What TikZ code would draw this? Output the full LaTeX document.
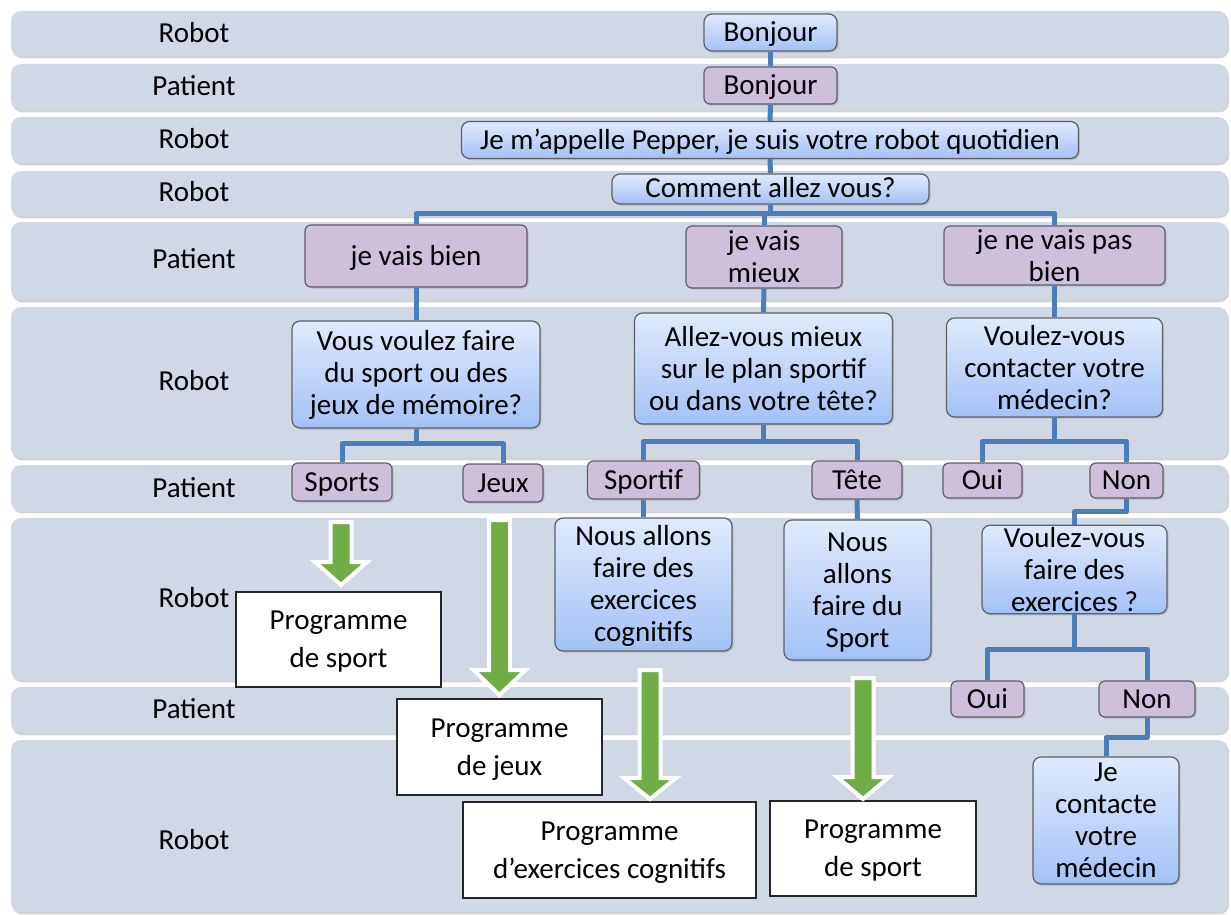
\documentclass[tikz,border=0pt]{standalone}
\usepackage{fontspec}
\setmainfont{Carlito}
\usetikzlibrary{calc,shadows}

\definecolor{bandfill}{RGB}{208,215,229}
\definecolor{linkblue}{RGB}{74,126,187}
\definecolor{robtop}{RGB}{224,234,253}
\definecolor{robbot}{RGB}{162,194,246}
\definecolor{patfill}{RGB}{206,192,218}
\definecolor{arrowgreen}{RGB}{112,173,71}
\definecolor{boxedge}{RGB}{95,95,105}

\def\greenarrow(#1)(#2)(#3){\draw[garrow] ($(#1)+(-10.5,0)$) -- ($(#1)+(10.5,0)$) -- ($(#2)+(10.5,-#3)$) -- ($(#2)+(26,-#3)$) -- (#2) -- ($(#2)+(-26,-#3)$) -- ($(#2)+(-10.5,-#3)$) -- cycle;}

\tikzset{
  lane/.style={fill=bandfill, draw=none, rounded corners=5pt,
    drop shadow={shadow xshift=0.6pt, shadow yshift=-1.2pt, opacity=0.35}},
  lanelabel/.style={font=\fontsize{14.5}{16}\selectfont},
  robot/.style={draw=boxedge, line width=0.6pt, rounded corners=4pt,
    top color=robtop, bottom color=robbot, align=center, inner sep=1pt,
    font=\fontsize{14.5}{16}\selectfont,
    drop shadow={shadow xshift=0.8pt, shadow yshift=-0.8pt, opacity=0.3}},
  patient/.style={draw=boxedge, line width=0.6pt, rounded corners=3pt,
    fill=patfill, align=center, inner sep=1pt,
    font=\fontsize{14.5}{16}\selectfont,
    drop shadow={shadow xshift=0.8pt, shadow yshift=-0.8pt, opacity=0.3}},
  oneline/.style={text height=10.5pt, text depth=1.5pt},
  prog/.style={draw=black!85, line width=0.6pt, fill=white, align=center,
    inner sep=1pt, text depth=-1pt, font=\fontsize{14.5}{19}\selectfont},
  link/.style={draw=linkblue, line width=2.5pt, line join=round},
  garrow/.style={fill=arrowgreen, draw=white, line width=2pt, line join=miter}
}

\begin{document}
\begin{tikzpicture}[x=0.5pt, y=-0.5pt]
		%%%%% LANES %%%%%
		\useasboundingbox (0,0) rectangle (1231,915);
		
		\path[lane] (11, 11) rectangle (1228, 56);
		\path[lane] (11, 64) rectangle (1228, 110);
		\path[lane] (11, 117) rectangle (1228, 163);
		\path[lane] (11, 171) rectangle (1228, 216);
		\path[lane] (11, 222) rectangle (1228, 300);
		\path[lane] (11, 307) rectangle (1228, 458);
		\path[lane] (11, 465) rectangle (1228, 511);
		\path[lane] (11, 518) rectangle (1228, 680);
		\path[lane] (11, 687) rectangle (1228, 733);
		\path[lane] (11, 740) rectangle (1228, 912);
		
		\node[lanelabel] (who1) at (194, 33) {Robot};
		\node[lanelabel] (who2) at (194, 86) {Patient};
		\node[lanelabel] (who3) at (194, 139) {Robot};
		\node[lanelabel] (who4) at (194, 192) {Robot};
		\node[lanelabel] (who5) at (194, 259) {Patient};
		\node[lanelabel] (who6) at (194, 381) {Robot};
		\node[lanelabel] (who7) at (194, 488) {Patient};
		\node[lanelabel] (who8) at (194, 598) {Robot};
		\node[lanelabel] (who9) at (194, 709) {Patient};
		\node[lanelabel] (who10) at (194, 840) {Robot};
		
		%%%%% DIALOGUE %%%%%
		\node[robot, oneline, minimum width=66.5pt, minimum height=18.5pt] (rBonjour) at (770.5, 32.5) {Bonjour};
		\node[patient, oneline, minimum width=66.5pt, minimum height=18.5pt] (pBonjour) at (770.5, 85.5) {Bonjour};
		\node[robot, oneline, minimum width=308.5pt, minimum height=18.5pt] (rPepper) at (770, 140) {Je m’appelle Pepper, je suis votre robot quotidien};
		\node[robot, oneline, minimum width=158.5pt, minimum height=15pt] (rComment) at (770.5, 189) {Comment allez vous?};
		
		\node[patient, oneline, minimum width=111pt, minimum height=31pt] (pBien) at (416, 256) {je vais bien};
		\node[patient, minimum width=78pt, minimum height=31pt] (pMieux) at (764, 257) {je vais\\mieux};
		\node[patient, minimum width=110.5pt, minimum height=29.5pt] (pPasBien) at (1054.5, 255.5) {je ne vais pas\\bien};
		
		\node[robot, minimum width=124pt, minimum height=53.5pt] (rSportJeux) at (416, 374.5) {Vous voulez faire\\du sport ou des\\jeux de mémoire?};
		\node[robot, minimum width=129pt, minimum height=55.5pt] (rPlan) at (763.5, 368.5) {Allez-vous mieux\\sur le plan sportif\\ou dans votre tête?};
		\node[robot, minimum width=108pt, minimum height=49.5pt] (rContact) at (1054.5, 367.5) {Voulez-vous\\contacter votre\\médecin?};
		
		\node[patient, oneline, minimum width=50pt, minimum height=19pt] (pSports) at (342, 482) {Sports};
		\node[patient, oneline, minimum width=40pt, minimum height=19pt] (pJeux) at (503, 483) {Jeux};
		\node[patient, oneline, minimum width=56pt, minimum height=19pt] (pSportif) at (643.5, 480) {Sportif};
		\node[patient, oneline, minimum width=45pt, minimum height=19pt] (pTete) at (857, 480) {Tête};
		\node[patient, oneline, minimum width=39.5pt, minimum height=17.5pt] (pOui1) at (982.5, 480.5) {Oui};
		\node[patient, oneline, minimum width=36.5pt, minimum height=17.5pt] (pNon1) at (1126.5, 480.5) {Non};
		
		\node[robot, text depth=1pt, minimum width=88.5pt, minimum height=66.5pt] (rCognitif) at (643.5, 584.5) {Nous allons\\faire des\\exercices\\cognitifs};
		\node[robot, text depth=-1pt, minimum width=73.5pt, minimum height=70pt] (rNousSport) at (857.5, 590) {Nous\\allons\\faire du\\Sport};
		\node[robot, minimum width=92.5pt, minimum height=43.5pt] (rExercices) at (1074.5, 569.5) {Voulez-vous\\faire des\\exercices ?};
		
		\node[patient, oneline, minimum width=36.5pt, minimum height=18pt] (pOui2) at (987.5, 699) {Oui};
		\node[patient, oneline, minimum width=48pt, minimum height=18pt] (pNon2) at (1147, 699) {Non};
		\node[robot, minimum width=73pt, minimum height=63.5pt] (rMedecin) at (1106, 820.5) {Je\\contacte\\votre\\médecin};
		
		\node[prog, minimum width=102.5pt, minimum height=47.5pt] (progSport) at (338.5, 639.5) {Programme\\de sport};
		\node[prog, minimum width=102.5pt, minimum height=48pt] (progJeux) at (499.5, 747) {Programme\\de jeux};
		\node[prog, minimum width=146.5pt, minimum height=48pt] (progCogn) at (609.5, 850) {Programme\\d’exercices cognitifs};
		\node[prog, minimum width=103pt, minimum height=47.5pt] (progSportB) at (873, 848.5) {Programme\\de sport};
		
		%%%%% LINKS %%%%%
		\draw[link] (rBonjour.south) -- (pBonjour.north);
		\draw[link] (pBonjour.south) -- (rPepper.north);
		\draw[link] (rPepper.south) -- (rComment.north);
		\draw[link] (rComment.south) -- ++(0, 9) -| (pBien.north);
		\draw[link] (rComment.south) -- ++(0, 9) -| (pMieux.north);
		\draw[link] (rComment.south) -- ++(0, 9) -| (pPasBien.north);
		
		\draw[link] (pBien.south) -- (rSportJeux.north);
		\draw[link] (pMieux.south) -- (rPlan.north);
		\draw[link] (pPasBien.south) -- (rContact.north);
		
		\draw[link] (rSportJeux.south) -- ++(0, 15) -| (pSports.north);
		\draw[link] (rSportJeux.south) -- ++(0, 15) -| (pJeux.north);
		\draw[link] (rPlan.south) -- ++(0, 17) -| (pSportif.north);
		\draw[link] (rPlan.south) -- ++(0, 17) -| (pTete.north);
		\draw[link] (rContact.south) -- ++(0, 24) -| (pOui1.north);
		\draw[link] (rContact.south) -- ++(0, 24) -| (pNon1.north);
		
		\draw[link] (pSportif.south) -- (rCognitif.north);
		\draw[link] (pTete.south) -- (rNousSport.north);
		\draw[link] (pNon1.south) -- ++(0, 13) -| (rExercices.north);
		\draw[link] (rExercices.south) -- ++(0, 35) -| (pOui2.north);
		\draw[link] (rExercices.south) -- ++(0, 35) -| (pNon2.north);
		\draw[link] (pNon2.south) -- ++(0, 20) -| (rMedecin.north);
		
		%%%%% GREEN ARROWS %%%%%
		\coordinate (gSportsTop) at (341, 522);
		\coordinate (gSportsTip) at (341, 585);
		\coordinate (gJeuxTop) at (499.5, 520);
		\coordinate (gJeuxTip) at (499.5, 695);
		\coordinate (gCognTop) at (650, 670);
		\coordinate (gCognTip) at (650, 799);
		\coordinate (gSportTop) at (863, 678);
		\coordinate (gSportTip) at (863, 799);
		
		\greenarrow(gSportsTop)(gSportsTip)(23)
		\greenarrow(gJeuxTop)(gJeuxTip)(25)
		\greenarrow(gCognTop)(gCognTip)(21)
		\greenarrow(gSportTop)(gSportTip)(22)
		
	\end{tikzpicture}
\end{document}
